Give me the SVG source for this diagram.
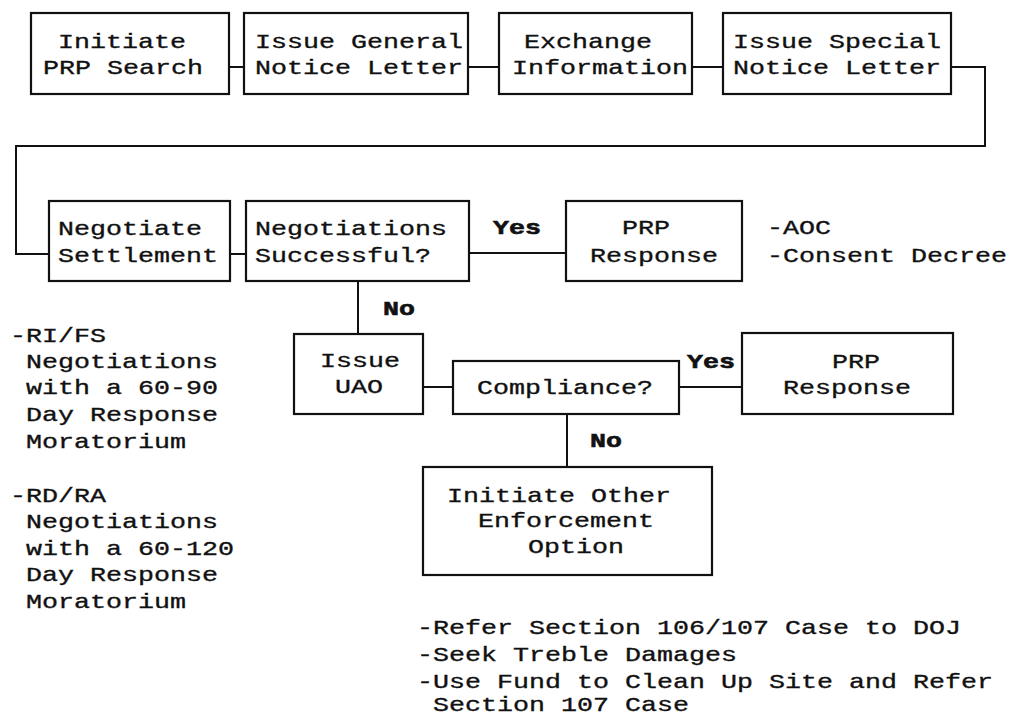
<svg xmlns="http://www.w3.org/2000/svg" width="1011" height="716" viewBox="0 0 1011 716">
  <style>
    .box { fill: #fff; stroke: #111; stroke-width: 2.2; }
    .wire { fill: none; stroke: #111; stroke-width: 2; }
    text { font-family: "Liberation Mono", "Courier New", monospace; font-size: 21px; fill: #111; stroke: #111; stroke-width: 0.35px; }
    .lbl { font-weight: bold; stroke-width: 0.6px; }
  </style>
  <rect width="1011" height="716" fill="#fff"/>

  <!-- connectors -->
  <g id="connectors">
    <path class="wire" d="M229 67 H244"/>
    <path class="wire" d="M468 67 H499"/>
    <path class="wire" d="M692 67 H723"/>
    <path class="wire" d="M951 67 H985 V146 H16 V254 H49"/>
    <path class="wire" d="M230 254 H246"/>
    <path class="wire" d="M469 253 H566"/>
    <path class="wire" d="M358 281 V334"/>
    <path class="wire" d="M423 387 H453"/>
    <path class="wire" d="M679 387 H742"/>
    <path class="wire" d="M567 414 V467"/>
    <text class="lbl" x="493" y="234" textLength="48" lengthAdjust="spacingAndGlyphs">Yes</text>
    <text class="lbl" x="383" y="315" textLength="32" lengthAdjust="spacingAndGlyphs">No</text>
    <text class="lbl" x="687" y="368" textLength="48" lengthAdjust="spacingAndGlyphs">Yes</text>
    <text class="lbl" x="590" y="447" textLength="32" lengthAdjust="spacingAndGlyphs">No</text>
  </g>

  <!-- row 1 -->
  <g id="initiate-prp-search">
    <rect class="box" x="31" y="13" width="198" height="81"/>
    <text x="58" y="48" textLength="128" lengthAdjust="spacingAndGlyphs">Initiate</text>
    <text x="43" y="74" textLength="160" lengthAdjust="spacingAndGlyphs">PRP Search</text>
  </g>
  <g id="issue-general-notice">
    <rect class="box" x="244" y="13" width="224" height="81"/>
    <text x="255" y="48" textLength="208" lengthAdjust="spacingAndGlyphs">Issue General</text>
    <text x="255" y="74" textLength="208" lengthAdjust="spacingAndGlyphs">Notice Letter</text>
  </g>
  <g id="exchange-information">
    <rect class="box" x="499" y="13" width="193" height="81"/>
    <text x="524" y="48" textLength="128" lengthAdjust="spacingAndGlyphs">Exchange</text>
    <text x="512" y="74" textLength="176" lengthAdjust="spacingAndGlyphs">Information</text>
  </g>
  <g id="issue-special-notice">
    <rect class="box" x="723" y="13" width="228" height="81"/>
    <text x="733" y="48" textLength="208" lengthAdjust="spacingAndGlyphs">Issue Special</text>
    <text x="733" y="74" textLength="208" lengthAdjust="spacingAndGlyphs">Notice Letter</text>
  </g>

  <!-- row 2 -->
  <g id="negotiate-settlement">
    <rect class="box" x="49" y="201" width="181" height="80"/>
    <text x="58" y="235" textLength="144" lengthAdjust="spacingAndGlyphs">Negotiate</text>
    <text x="58" y="262" textLength="160" lengthAdjust="spacingAndGlyphs">Settlement</text>
  </g>
  <g id="negotiations-successful">
    <rect class="box" x="246" y="201" width="223" height="80"/>
    <text x="255" y="235" textLength="192" lengthAdjust="spacingAndGlyphs">Negotiations</text>
    <text x="255" y="262" textLength="176" lengthAdjust="spacingAndGlyphs">Successful?</text>
  </g>
  <g id="prp-response-1">
    <rect class="box" x="566" y="201" width="176" height="80"/>
    <text x="622" y="234" textLength="48" lengthAdjust="spacingAndGlyphs">PRP</text>
    <text x="590" y="262" textLength="128" lengthAdjust="spacingAndGlyphs">Response</text>
  </g>
  <g id="settlement-forms">
    <text x="767" y="234" textLength="64" lengthAdjust="spacingAndGlyphs">-AOC</text>
    <text x="767" y="262" textLength="240" lengthAdjust="spacingAndGlyphs">-Consent Decree</text>
  </g>

  <!-- row 3 -->
  <g id="issue-uao">
    <rect class="box" x="294" y="334" width="129" height="80"/>
    <text x="320" y="367" textLength="80" lengthAdjust="spacingAndGlyphs">Issue</text>
    <text x="335" y="393" textLength="48" lengthAdjust="spacingAndGlyphs">UAO</text>
  </g>
  <g id="compliance">
    <rect class="box" x="453" y="361" width="226" height="53"/>
    <text x="477" y="394" textLength="176" lengthAdjust="spacingAndGlyphs">Compliance?</text>
  </g>
  <g id="prp-response-2">
    <rect class="box" x="742" y="333" width="211" height="81"/>
    <text x="832" y="368" textLength="48" lengthAdjust="spacingAndGlyphs">PRP</text>
    <text x="783" y="394" textLength="128" lengthAdjust="spacingAndGlyphs">Response</text>
  </g>
  <g id="other-enforcement">
    <rect class="box" x="423" y="467" width="289" height="108"/>
    <text x="447" y="502" textLength="224" lengthAdjust="spacingAndGlyphs">Initiate Other</text>
    <text x="478" y="527" textLength="176" lengthAdjust="spacingAndGlyphs">Enforcement</text>
    <text x="528" y="553" textLength="96" lengthAdjust="spacingAndGlyphs">Option</text>
  </g>

  <!-- moratorium notes -->
  <g id="moratorium-notes">
    <text x="10" y="342" textLength="96" lengthAdjust="spacingAndGlyphs">-RI/FS</text>
    <text x="26" y="368" textLength="192" lengthAdjust="spacingAndGlyphs">Negotiations</text>
    <text x="26" y="394" textLength="192" lengthAdjust="spacingAndGlyphs">with a 60-90</text>
    <text x="26" y="421" textLength="192" lengthAdjust="spacingAndGlyphs">Day Response</text>
    <text x="26" y="448" textLength="160" lengthAdjust="spacingAndGlyphs">Moratorium</text>
    <text x="10" y="502" textLength="96" lengthAdjust="spacingAndGlyphs">-RD/RA</text>
    <text x="26" y="528" textLength="192" lengthAdjust="spacingAndGlyphs">Negotiations</text>
    <text x="26" y="555" textLength="208" lengthAdjust="spacingAndGlyphs">with a 60-120</text>
    <text x="26" y="581" textLength="192" lengthAdjust="spacingAndGlyphs">Day Response</text>
    <text x="26" y="608" textLength="160" lengthAdjust="spacingAndGlyphs">Moratorium</text>
  </g>

  <!-- enforcement options -->
  <g id="enforcement-notes">
    <text x="417" y="634" textLength="544" lengthAdjust="spacingAndGlyphs">-Refer Section 106/107 Case to DOJ</text>
    <text x="417" y="661" textLength="320" lengthAdjust="spacingAndGlyphs">-Seek Treble Damages</text>
    <text x="417" y="688" textLength="576" lengthAdjust="spacingAndGlyphs">-Use Fund to Clean Up Site and Refer</text>
    <text x="433" y="711" textLength="256" lengthAdjust="spacingAndGlyphs">Section 107 Case</text>
  </g>
</svg>
